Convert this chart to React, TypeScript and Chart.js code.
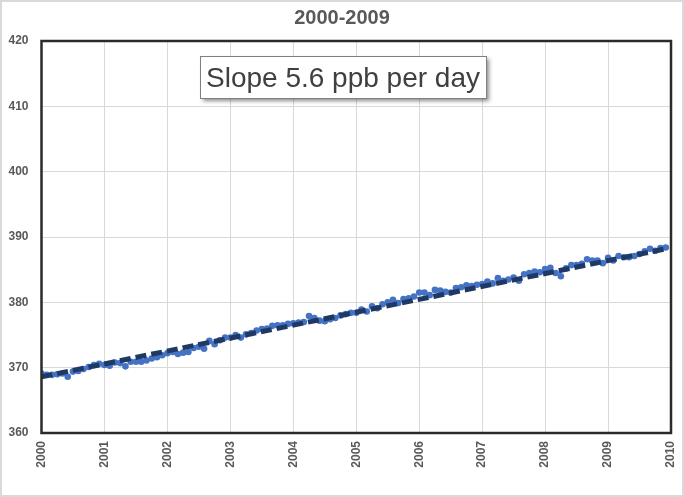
import React, { useEffect, useRef } from "react";
import { Chart, registerables } from "chart.js";

Chart.register(...registerables);

const titleText = "2000-2009";
const slopeLabel = "Slope 5.6 ppb per day";
const startYear = 2000;
const monthsPerYear = 12;

// monthly concentrations (ppb), Jan 2000 .. Dec 2009
const monthlyValues: number[] = [
  369.1, 368.9, 368.9, 369.0, 369.1, 368.6, 369.4, 369.5, 369.8, 370.1, 370.4, 370.6,
  370.4, 370.3, 370.8, 370.7, 370.2, 370.9, 370.9, 370.9, 371.1, 371.4, 371.6, 371.9,
  372.2, 372.4, 372.1, 372.3, 372.4, 373.0, 373.2, 372.9, 374.1, 373.6, 374.2, 374.6,
  374.6, 375.0, 374.6, 375.1, 375.3, 375.7, 375.9, 376.0, 376.4, 376.5, 376.5, 376.7,
  376.8, 376.9, 377.0, 377.9, 377.6, 377.2, 377.1, 377.4, 377.6, 378.0, 378.2, 378.4,
  378.4, 378.9, 378.6, 379.4, 379.1, 379.7, 380.0, 380.4, 379.9, 380.5, 380.6, 380.9,
  381.5, 381.5, 381.1, 381.9, 381.8, 381.6, 381.5, 382.2, 382.3, 382.6, 382.5, 382.7,
  382.8, 383.2, 382.9, 383.7, 383.3, 383.5, 383.8, 383.3, 384.3, 384.5, 384.7, 384.6,
  385.1, 385.3, 384.5, 384.0, 385.2, 385.7, 385.7, 385.9, 386.6, 386.4, 386.4, 386.0,
  386.8, 386.4, 387.1, 386.9, 386.9, 387.1, 387.4, 387.8, 388.2, 387.9, 388.3, 388.4,
];

// linear trend end points
const trendX: number[] = [2000, 2009.917];
const trendY: number[] = [368.6, 388.2];

const xMin = 2000;
const xMax = 2010;
const yMin = 360;
const yMax = 420;
const yStep = 10;

const textColor = "#595959";

const decorPlugin = {
  id: "decor",
  beforeDraw(chart: any) {
    const { ctx, width, height } = chart;
    ctx.save();
    ctx.fillStyle = "#ffffff";
    ctx.fillRect(0, 0, width, height);
    ctx.restore();
  },
  afterDraw(chart: any) {
    const { ctx, chartArea, width, height } = chart;
    ctx.save();
    // outer frame
    ctx.strokeStyle = "#d9d9d9";
    ctx.lineWidth = 2;
    ctx.strokeRect(1, 1, width - 2, height - 2);
    // plot border
    ctx.strokeStyle = "#2b2b2b";
    ctx.lineWidth = 2.5;
    ctx.strokeRect(chartArea.left, chartArea.top, chartArea.right - chartArea.left, chartArea.bottom - chartArea.top);
    // title
    ctx.fillStyle = textColor;
    ctx.font = "bold 20px 'Liberation Sans', Arial, sans-serif";
    ctx.textAlign = "center";
    ctx.textBaseline = "middle";
    ctx.fillText(titleText, width / 2, 18);
    // annotation box
    const bx = 200, by = 56, bw = 286, bh = 42;
    ctx.save();
    ctx.shadowColor = "rgba(0,0,0,0.45)";
    ctx.shadowOffsetX = 3;
    ctx.shadowOffsetY = 3;
    ctx.shadowBlur = 4;
    ctx.fillStyle = "#ffffff";
    ctx.fillRect(bx, by, bw, bh);
    ctx.restore();
    ctx.strokeStyle = "#7f7f7f";
    ctx.lineWidth = 1;
    ctx.strokeRect(bx + 0.5, by + 0.5, bw, bh);
    ctx.fillStyle = "#404040";
    ctx.font = "28px 'Liberation Sans', Arial, sans-serif";
    ctx.textAlign = "center";
    ctx.textBaseline = "alphabetic";
    ctx.fillText(slopeLabel, bx + bw / 2, by + 31);
    ctx.restore();
  },
};

export default function App() {
  const ref = useRef<HTMLCanvasElement | null>(null);
  useEffect(() => {
    if (!ref.current) return;
    const points = monthlyValues.map((v, i) => ({ x: startYear + i / monthsPerYear, y: v }));
    const trend = trendX.map((x, i) => ({ x, y: trendY[i] }));
    const chart = new Chart(ref.current, {
      type: "scatter",
      data: {
        datasets: [
          {
            type: "line",
            label: "Trend",
            data: trend,
            borderColor: "#1f3864",
            borderWidth: 5,
            borderDash: [11, 5],
            pointRadius: 0,
            fill: false,
          } as any,
          {
            label: "Monthly",
            data: points,
            backgroundColor: "#4472c4",
            borderColor: "#4472c4",
            borderWidth: 0,
            pointRadius: 3.3,
          },
        ],
      },
      plugins: [decorPlugin],
      options: {
        responsive: false,
        animation: false,
        devicePixelRatio: 1,
        layout: { padding: { top: 41, left: 0, right: 13, bottom: 0 } },
        plugins: {
          legend: { display: false },
          tooltip: { enabled: false },
          title: { display: false },
        },
        scales: {
          x: {
            type: "linear",
            min: xMin,
            max: xMax,
            border: { display: false },
            grid: { color: "#d9d9d9", lineWidth: 1, drawTicks: false },
            afterFit: (s: any) => {
              s.height = 64;
              s.paddingLeft = 0;
              s.paddingRight = 0;
            },
            ticks: {
              stepSize: 1,
              minRotation: 90,
              maxRotation: 90,
              padding: 8,
              color: textColor,
              font: { family: "'Liberation Sans', Arial, sans-serif", size: 12, weight: "bold" },
              callback: (v: any) => String(v),
            },
          },
          y: {
            min: yMin,
            max: yMax,
            border: { display: false },
            grid: { color: "#d9d9d9", lineWidth: 1, drawTicks: false },
            afterFit: (s: any) => {
              s.width = 41.5;
              s.paddingTop = 0;
              s.paddingBottom = 0;
            },
            ticks: {
              stepSize: yStep,
              padding: 13,
              color: textColor,
              font: { family: "'Liberation Sans', Arial, sans-serif", size: 12, weight: "bold" },
              callback: (v: any) => String(v),
            },
          },
        },
      },
    });
    return () => chart.destroy();
  }, []);
  return (
    <div style={{ position: "absolute", left: 0, top: 0, width: 684, height: 497 }}>
      <canvas ref={ref} width={684} height={497} />
    </div>
  );
}
